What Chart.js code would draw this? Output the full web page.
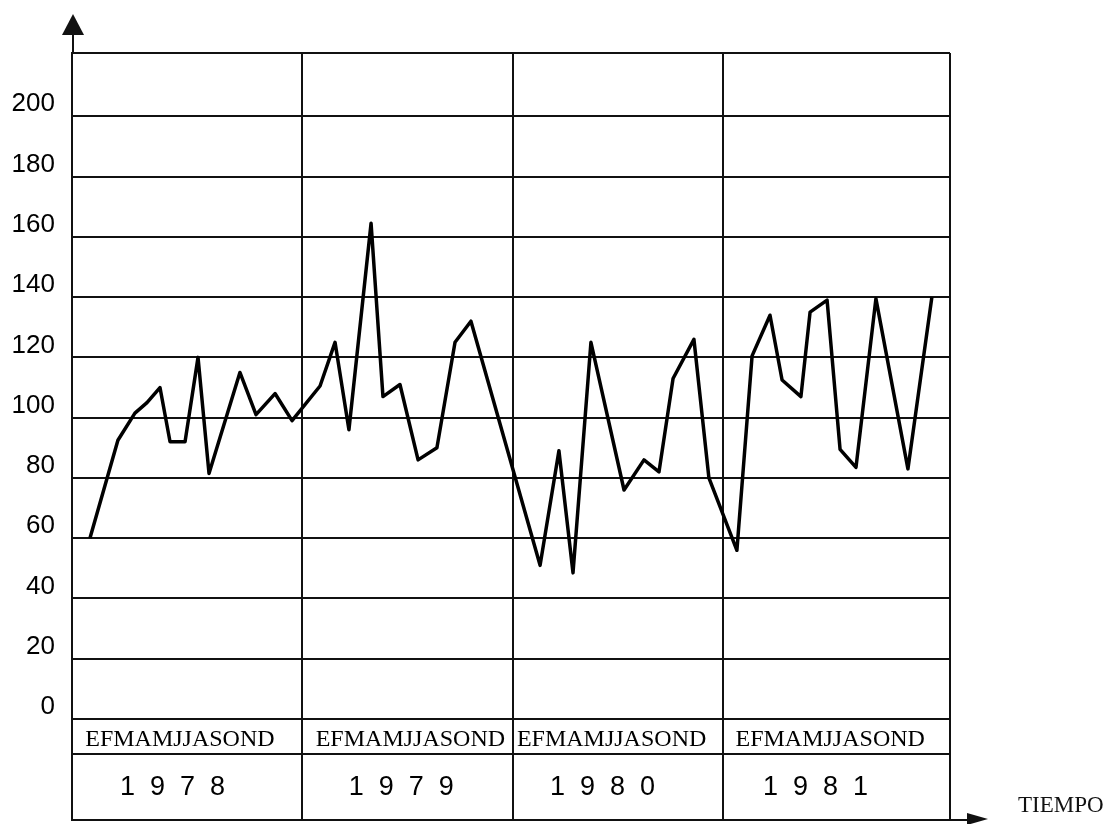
<!DOCTYPE html>
<html>
<head>
<meta charset="utf-8">
<script src="https://cdn.jsdelivr.net/npm/chart.js@4.4.1/dist/chart.umd.min.js"></script>
<style>
  html, body { margin: 0; padding: 0; background: #ffffff; }
  #wrap { width: 1113px; height: 824px; position: relative; }
</style>
</head>
<body>
<div id="wrap"><canvas id="c"></canvas></div>
<script>
// ---- data (time in months since Jan 1978) ----
const tiempo = [0.98, 2.51, 3.44, 4.10, 4.81, 5.36, 6.18, 6.89, 7.49, 9.18, 10.06, 11.10, 12.03,
                13.56, 14.38, 15.14, 16.35, 17.00, 17.93, 18.92, 19.95, 20.94, 21.81,
                25.59, 26.62, 27.39, 28.37, 30.18, 31.27, 32.09, 32.86, 34.00, 34.82, 36.35,
                37.18, 38.16, 38.82, 39.85, 40.35, 41.28, 41.99, 42.86, 43.95, 45.70, 47.01];
const valores = [60, 92.5, 101.5, 105, 110, 92, 92, 120, 81.5, 115, 101, 108, 99,
                 110.5, 125, 96, 164.5, 107, 111, 86, 90, 125, 132,
                 51, 89, 48.5, 125, 76, 86, 82, 113, 126, 80, 56,
                 120.5, 134, 112.5, 107, 135, 139, 89.5, 83.5, 139.5, 83, 140];
const limitesAnio = [0, 12.57, 24.11, 35.59, 48];
const etiquetasMes = ['EFMAMJJASOND', 'EFMAMJJASOND', 'EFMAMJJASOND', 'EFMAMJJASOND'];
const centrosMes = [5.9, 18.5, 29.5, 41.45];
const anios = ['1  9  7  8', '1  9  7  9', '1  9  8  0', '1  9  8  1'];
const centrosAnio = [5.5, 18.0, 29.0, 40.65];
const ticksY = [0, 20, 40, 60, 80, 100, 120, 140, 160, 180, 200];
const filasTabla = [-33.5, -11.6];   // bottom of year row, border between month row and year row
const yMin = -33.5, yMax = 221;
const tituloX = 'TIEMPO';

const INK = '#111111';

function noPad(s) {
  s.paddingTop = 0; s.paddingBottom = 0; s.paddingLeft = 0; s.paddingRight = 0;
}

const arrows = {
  id: 'arrows',
  afterDraw(chart) {
    const ctx = chart.ctx;
    const a = chart.chartArea;
    ctx.save();
    ctx.strokeStyle = INK;
    ctx.fillStyle = INK;
    ctx.lineWidth = 2;
    // y axis extension with arrow head
    ctx.beginPath();
    ctx.moveTo(a.left + 1, a.top);
    ctx.lineTo(a.left + 1, 32);
    ctx.stroke();
    ctx.beginPath();
    ctx.moveTo(a.left + 1, 14);
    ctx.lineTo(a.left - 10, 35);
    ctx.lineTo(a.left + 12, 35);
    ctx.closePath();
    ctx.fill();
    // x axis extension with arrow head
    ctx.beginPath();
    ctx.moveTo(a.right, a.bottom);
    ctx.lineTo(970, a.bottom);
    ctx.stroke();
    ctx.beginPath();
    ctx.moveTo(988, a.bottom - 1);
    ctx.lineTo(967, a.bottom - 7);
    ctx.lineTo(967, a.bottom + 5);
    ctx.closePath();
    ctx.fill();
    // axis title
    ctx.font = '23px "Liberation Serif", "DejaVu Serif", serif';
    ctx.textBaseline = 'middle';
    ctx.textAlign = 'left';
    ctx.fillText(tituloX, 1018, 806);
    ctx.restore();
  }
};

new Chart(document.getElementById('c'), {
  type: 'line',
  data: {
    datasets: [{
      data: tiempo.map((t, i) => ({ x: t, y: valores[i] })),
      borderColor: '#000000',
      borderWidth: 3.5,
      borderJoinStyle: 'round',
      pointRadius: 0,
      tension: 0,
      fill: false,
      xAxisID: 'x',
      yAxisID: 'y'
    }]
  },
  options: {
    responsive: true,
    maintainAspectRatio: false,
    animation: false,
    layout: { padding: { top: 53, right: 163, bottom: 4, left: 0 } },
    plugins: { legend: { display: false }, tooltip: { enabled: false } },
    scales: {
      x: {
        type: 'linear',
        position: 'bottom',
        min: 0, max: 48,
        afterBuildTicks: s => { s.ticks = limitesAnio.map(v => ({ value: v })); },
        afterFit: s => { s.height = 0; noPad(s); },
        ticks: { display: false },
        grid: { color: INK, lineWidth: 2, drawTicks: false },
        border: { display: true, color: INK, width: 2 }
      },
      xMes: {
        type: 'linear',
        position: { y: 0 },
        min: 0, max: 48,
        afterBuildTicks: s => { s.ticks = centrosMes.map(v => ({ value: v })); },
        afterFit: s => { s.height = 0; noPad(s); },
        ticks: {
          autoSkip: false, maxRotation: 0, minRotation: 0, padding: 6,
          color: '#000000',
          font: { family: '"Liberation Serif", "DejaVu Serif", serif', size: 24 },
          callback: (v, i) => etiquetasMes[i]
        },
        grid: { display: false, drawTicks: false },
        border: { display: false }
      },
      xAnio: {
        type: 'linear',
        position: { y: filasTabla[1] },
        min: 0, max: 48,
        afterBuildTicks: s => { s.ticks = centrosAnio.map(v => ({ value: v })); },
        afterFit: s => { s.height = 0; noPad(s); },
        ticks: {
          autoSkip: false, maxRotation: 0, minRotation: 0, padding: 17,
          color: '#000000',
          font: { family: '"Liberation Sans", Arial, sans-serif', size: 27 },
          callback: (v, i) => anios[i]
        },
        grid: { display: false, drawTicks: false },
        border: { display: false }
      },
      y: {
        type: 'linear',
        position: 'left',
        min: yMin, max: yMax,
        afterBuildTicks: s => {
          s.ticks = filasTabla.concat(ticksY, [yMax]).sort((p, q) => p - q).map(v => ({ value: v }));
        },
        afterFit: s => { s.width = 72; noPad(s); },
        ticks: {
          padding: 17,
          labelOffset: -12,
          color: '#000000',
          font: { family: '"Liberation Sans", Arial, sans-serif', size: 26 },
          callback: v => (ticksY.includes(v) ? String(v) : '')
        },
        grid: { color: INK, lineWidth: 2, drawTicks: false },
        border: { display: true, color: INK, width: 2 }
      }
    }
  },
  plugins: [arrows]
});
</script>
</body>
</html>
